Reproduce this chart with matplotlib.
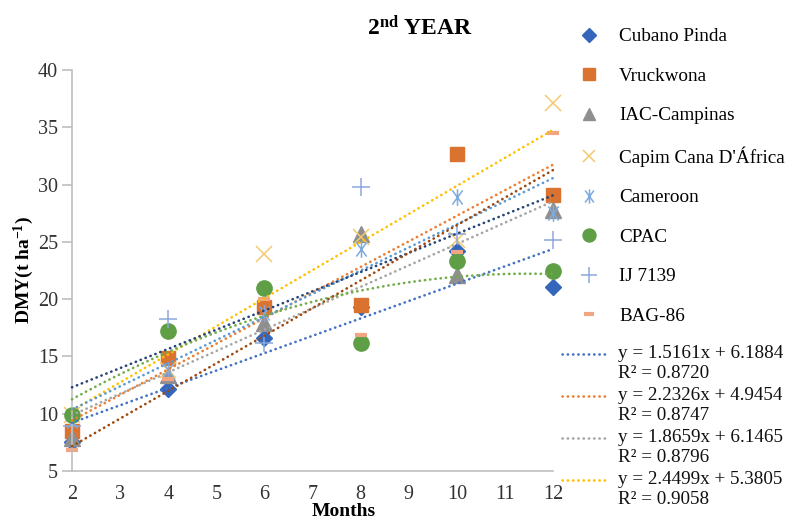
import matplotlib.pyplot as plt
from matplotlib.lines import Line2D
from matplotlib.path import Path
import numpy as np

plt.rcParams['font.family'] = ['Liberation Serif', 'DejaVu Serif']
plt.rcParams['mathtext.fontset'] = 'custom'
plt.rcParams['mathtext.rm'] = 'Liberation Serif'
plt.rcParams['mathtext.it'] = 'Liberation Serif:italic'
plt.rcParams['mathtext.bf'] = 'Liberation Serif:bold'

months = [2, 4, 6, 8, 10, 12]

cultivars = ['Cubano Pinda', 'Vruckwona', 'IAC-Campinas', "Capim Cana D'África",
             'Cameroon', 'CPAC', 'IJ 7139', 'BAG-86']

# dry matter yield (t/ha) per cultivar
cubano_pinda = [7.5, 12.2, 16.6, 19.3, 24.2, 21.1]
vruckwona = [8.5, 14.9, 19.3, 19.5, 32.7, 29.1]
iac_campinas = [7.9, 13.4, 17.9, 25.7, 22.1, 27.8]
capim_cana = [9.9, 13.8, 23.9, 25.4, 25.2, 37.1]
cameroon = [9.4, 13.8, 18.8, 24.4, 28.9, 27.5]
cpac = [9.9, 17.2, 21.0, 16.2, 23.3, 22.5]
ij_7139 = [8.9, 18.3, 16.2, 29.8, 25.7, 25.2]
bag_86 = [6.8, 13.0, 20.0, 16.9, 24.1, 34.5]

# linear trendlines reported for the first four cultivars
slopes = [1.5161, 2.2326, 1.8659, 2.4499]
intercepts = [6.1884, 4.9454, 6.1465, 5.3805]
r_squared = [0.8720, 0.8747, 0.8796, 0.9058]

series = [cubano_pinda, vruckwona, iac_campinas, capim_cana, cameroon, cpac, ij_7139, bag_86]

# excel-like asterisk: vertical bar plus a narrow X
aster = Path([(0, -1), (0, 1), (-0.62, -0.85), (0.62, 0.85), (-0.62, 0.85), (0.62, -0.85)],
             [Path.MOVETO, Path.LINETO] * 3)

marker_style = [
    dict(marker='D', ms=8, mfc='#3466BC', mec='#3466BC'),
    dict(marker='s', ms=10.5, mfc='#DB7330', mec='#DB7330'),
    dict(marker='^', ms=11, mfc='#8F8F8F', mec='#8F8F8F'),
    dict(marker='x', ms=11, mec='#F3C86E', mew=1.1),
    dict(marker=aster, ms=12, mec='#7FAAE0', mew=1.1),
    dict(marker='o', ms=11, mfc='#5E9F46', mec='#5E9F46'),
    dict(marker='+', ms=13, mec='#8CA8DE', mew=1.1),
    dict(marker='_', ms=8, mec='#F2A582', mew=3),
]
trend_colors = ['#4472C4', '#ED7D31', '#A5A5A5', '#FFC000', '#5B9BD5', '#70AD47', '#264478', '#9E480E']
dots = (0, (0.1, 1.9))

fig = plt.figure(figsize=(7.88, 5.2), dpi=100)
ax = fig.add_axes([72 / 788, 1 - 471 / 520, 481 / 788, 401 / 520])

x = np.array(months)
xx = np.linspace(2, 12, 200)
handles = []
for i, vals in enumerate(series):
    h, = ax.plot(months, vals, linestyle='none', zorder=2, clip_on=False, **marker_style[i])
    handles.append(h)

for i, vals in enumerate(series):
    if i < 4:
        yy = slopes[i] * xx + intercepts[i]
    elif cultivars[i] == 'CPAC':
        yy = np.polyval(np.polyfit(x, vals, 2), xx)
    else:
        yy = np.polyval(np.polyfit(x, vals, 1), xx)
    ax.plot(xx, yy, color=trend_colors[i], lw=1.9, linestyle=dots,
            dash_capstyle='round', zorder=3, clip_on=False)

ax.set_xlim(2, 12)
ax.set_ylim(5, 40)
ax.set_xticks(range(2, 13))
ax.set_yticks(range(5, 41, 5))
for s in ['top', 'right']:
    ax.spines[s].set_visible(False)
for s in ['left', 'bottom']:
    ax.spines[s].set_color('#BFBFBF')
    ax.spines[s].set_linewidth(1.2)
ax.tick_params(axis='y', length=7, color='#BFBFBF', width=1.2, pad=3, labelsize=14.5, labelcolor='#333333')
ax.tick_params(axis='x', length=0, pad=10, labelsize=14.5, labelcolor='#333333')

ax.set_xlabel('Months', fontsize=14, fontweight='bold')
ax.xaxis.set_label_coords((344 - 72) / 481, -0.1)
ax.xaxis.label.set_va('center')
ax.set_ylabel(r'DMY(t ha$^{\mathbf{-1}}$)', fontsize=14, fontweight='bold')
ax.yaxis.set_label_coords(-0.075, 0.5)

fig.text(420 / 788, 1 - 28 / 520, r'$\mathbf{2^{nd}}$ YEAR', fontsize=17, fontweight='bold',
         ha='center', va='center')

fig.legend(handles, cultivars, loc='upper left', bbox_to_anchor=(579 / 788, 1 - 28 / 520),
           frameon=False, fontsize=13.8, handlelength=1.0, handletextpad=1.1,
           labelspacing=1.15, borderpad=0, borderaxespad=0, markerscale=0.85)

# trendline entries with equation and R²
for i in range(4):
    yc = 1 - (354 + 42 * i) / 520
    fig.add_artist(Line2D([562 / 788, 605 / 788], [yc, yc], color=trend_colors[i], lw=1.9,
                          linestyle=dots, dash_capstyle='round'))
    fig.text(618 / 788, yc, f'y = {slopes[i]:.4f}x + {intercepts[i]:.4f}', fontsize=13.8,
             va='center', color='#111111')
    fig.text(618 / 788, yc - 20 / 520, f'R² = {r_squared[i]:.4f}', fontsize=13.8,
             va='center', color='#111111')

fig.savefig('out.png', dpi=100)
